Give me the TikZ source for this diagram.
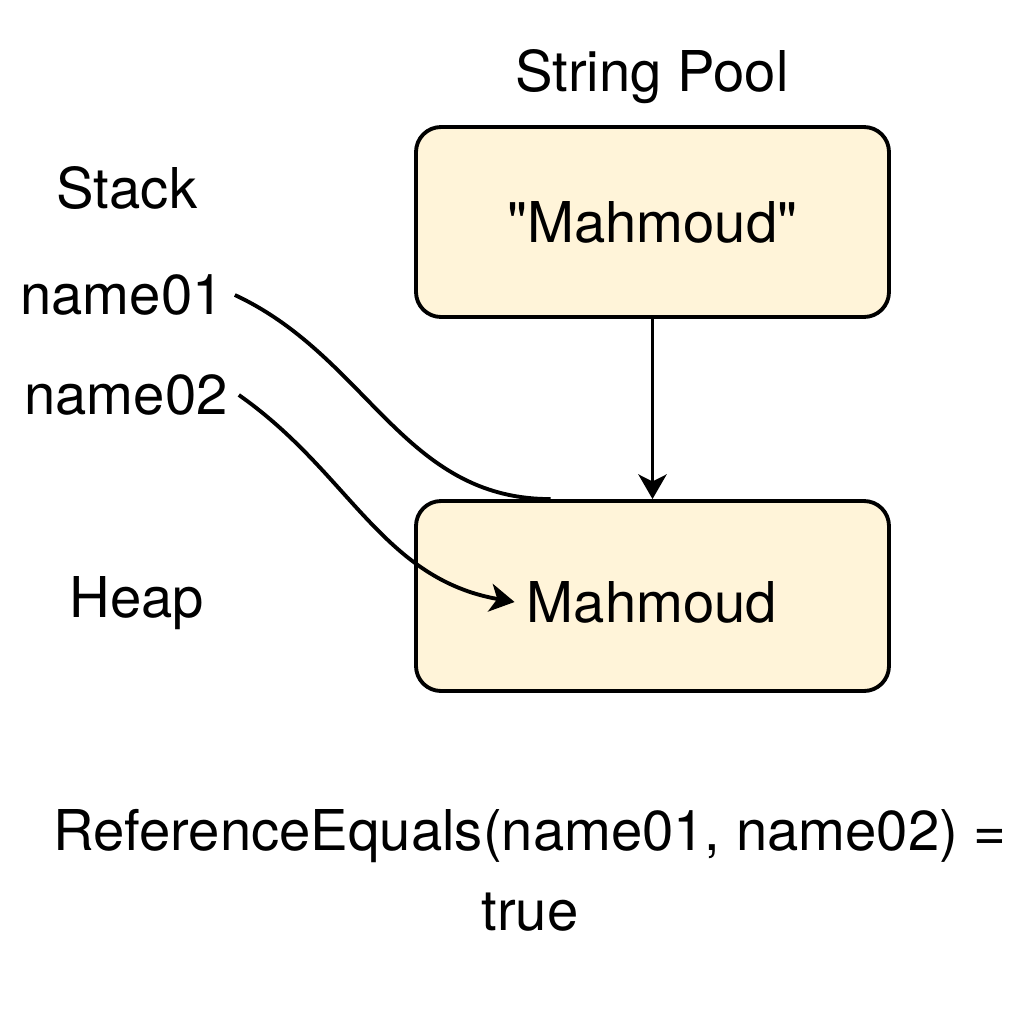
\documentclass[tikz,border=0pt]{standalone}
\usepackage{fontspec}
\newfontfamily\heros{TeX Gyre Heros}
\usetikzlibrary{arrows.meta}
\definecolor{memfill}{HTML}{FFF4D9}

\begin{document}
\begin{tikzpicture}[
    every node/.style={font=\heros\fontsize{16}{19}\selectfont},
    membox/.style={draw, line width=1.1pt, rounded corners=0.25cm, fill=memfill,
                   minimum width=4.73cm, minimum height=1.9cm, inner sep=0pt},
    varname/.style={inner sep=3pt},
    refline/.style={line width=1.1pt},
    reftip/.style={refline, -{Stealth[length=7pt,width=8pt,inset=2pt]}}
  ]
          \useasboundingbox (0,0) rectangle (10.24,-10.24);

          \node (pooltitle) at (6.52, -0.77) {String Pool};
          \node[membox] (pool) at (6.525, -2.22) {"Mahmoud"};
          \node[membox] (heapbox) at (6.525, -5.96) {};
          \node (heaptxt) at (6.52, -6.02) {Mahmoud};

          \node (stack)  at (1.27, -1.88) {Stack};
          \node[varname] (name01) at (1.22, -2.95) {name01};
          \node[varname] (name02) at (1.26, -3.95) {name02};
          \node (heap)   at (1.37, -6.03) {Heap};

          \draw[reftip] (pool) -- (heapbox);
          \draw[refline] (name01.east) to[out=-25, in=180] ([xshift=-1.02cm]heapbox.north);
          \draw[reftip] (name02.east) to[out=-35, in=170] (heaptxt.west);

          \node[align=center, font=\heros\fontsize{16}{22.8}\selectfont] (result) at (5.3, -8.7)
               {ReferenceEquals(name01, name02) =\\true};
        \end{tikzpicture}
\end{document}
